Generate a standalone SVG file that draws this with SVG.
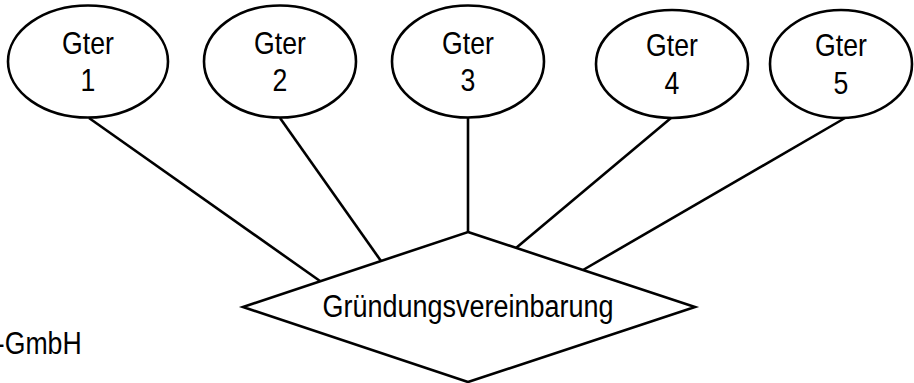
<svg xmlns="http://www.w3.org/2000/svg" width="914" height="383" viewBox="0 0 914 383">
<style>
.shape{fill:#fff;stroke:#000;stroke-width:2.6}
.conn line{stroke:#000;stroke-width:2.6}
text{font-family:"Liberation Sans",Arial,sans-serif;font-size:31px;fill:#000;text-anchor:middle}
</style>
<rect width="914" height="383" fill="#fff"/>
<g id="connectors" class="conn">
<line x1="89" y1="118" x2="320" y2="281"/>
<line x1="280" y1="118" x2="381" y2="261"/>
<line x1="468" y1="118" x2="468" y2="232"/>
<line x1="671" y1="118" x2="516" y2="248"/>
<line x1="845" y1="118" x2="583" y2="270"/>
</g>
<g id="gter1"><ellipse class="shape" cx="88" cy="61.5" rx="80" ry="56"/><text transform="matrix(0.86 0 0 1 88 0)" y="54">Gter</text><text transform="matrix(0.86 0 0 1 88 0)" y="91.5">1</text></g>
<g id="gter2"><ellipse class="shape" cx="280" cy="61.5" rx="76" ry="56"/><text transform="matrix(0.86 0 0 1 280 0)" y="54">Gter</text><text transform="matrix(0.86 0 0 1 280 0)" y="91.5">2</text></g>
<g id="gter3"><ellipse class="shape" cx="468" cy="61.5" rx="76" ry="56"/><text transform="matrix(0.86 0 0 1 468 0)" y="54">Gter</text><text transform="matrix(0.86 0 0 1 468 0)" y="91.5">3</text></g>
<g id="gter4"><ellipse class="shape" cx="672" cy="64" rx="76" ry="54"/><text transform="matrix(0.86 0 0 1 672 0)" y="56">Gter</text><text transform="matrix(0.86 0 0 1 672 0)" y="94">4</text></g>
<g id="gter5"><ellipse class="shape" cx="841" cy="64" rx="71" ry="54"/><text transform="matrix(0.86 0 0 1 841 0)" y="56">Gter</text><text transform="matrix(0.86 0 0 1 841 0)" y="94">5</text></g>
<g id="gruendungsvereinbarung"><polygon class="shape" points="468,232 695,307 468,382 243,307"/><text transform="matrix(0.87 0 0 1 468 0)" y="317">Gründungsvereinbarung</text></g>
<g id="gmbh"><text transform="matrix(0.86 0 0 1 -4.2 0)" y="354" style="text-anchor:start">-GmbH</text></g>
</svg>
